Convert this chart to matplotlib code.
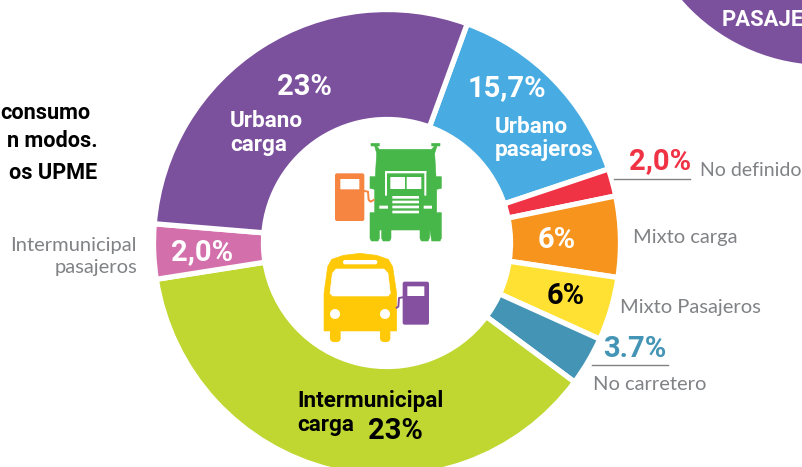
import matplotlib
matplotlib.use("Agg")
import matplotlib.pyplot as plt
from matplotlib.patches import Polygon, Circle, FancyBboxPatch

plt.rcParams['font.family'] = ['Roboto', 'DejaVu Sans']

# Shares (clockwise from the top-right boundary)
categories = ['Urbano pasajeros', 'No definido', 'Mixto carga', 'Mixto Pasajeros',
              'No carretero', 'Intermunicipal carga', 'Intermunicipal pasajeros', 'Urbano carga']
shares = [14.3, 1.9, 5.6, 4.4, 3.4, 37.4, 3.8, 29.3]
colors = ['#48ACE2', '#F03245', '#F7941D', '#FFE133',
          '#4495B5', '#BFD730', '#D36FAB', '#7B519D']

W, H = 803, 467
fig = plt.figure(figsize=(W / 100, H / 100), dpi=100, facecolor='white')
ax = fig.add_axes([0, 0, 1, 1])
CX, CY, R, RI = 387, 243, 231, 126
ax.pie(shares, colors=colors, center=(CX, H - CY), radius=R + 2.5, startangle=69.9,
       counterclock=False, frame=False,
       wedgeprops=dict(width=R - RI + 5, edgecolor='white', linewidth=3.8))
ax.set_xlim(0, W)
ax.set_ylim(0, H)
ax.set_aspect('equal')
ax.axis('off')

ov = fig.add_axes([0, 0, 1, 1])
ov.set_xlim(0, W)
ov.set_ylim(H, 0)
ov.axis('off')
ov.patch.set_alpha(0)

# ---- purple badge, top right
ov.add_patch(Circle((825, -125), 190, color='#7B519D', lw=0))


def z(X, Y):
    return (260 + X / 3, 130 + Y / 3)


def poly(pts, c, z_=2):
    ov.add_patch(Polygon([z(*p) for p in pts], closed=True, fc=c, ec=c, lw=0.4,
                         joinstyle='round', zorder=z_))


def rrect(x0, y0, x1, y1, c, rad=2, z_=2):
    a, b = z(x0, y0), z(x1, y1)
    ov.add_patch(FancyBboxPatch((a[0] + rad, a[1] + rad), b[0] - a[0] - 2 * rad, b[1] - a[1] - 2 * rad,
                                boxstyle=f'round,pad={rad}', fc=c, ec='none', zorder=z_))


def hose(pts, c):
    xy = [z(*p) for p in pts]
    ov.plot([p[0] for p in xy], [p[1] for p in xy], color=c, lw=1.4, solid_joinstyle='round', zorder=2)


# ---- truck icon
G = '#48B749'
poly([(333, 40), (358, 40), (358, 48), (350, 48), (358, 58), (515, 58), (524, 48), (515, 48),
      (515, 40), (540, 40), (540, 48), (531, 48), (524, 70), (528, 140), (544, 140), (544, 175),
      (530, 178), (530, 248), (544, 248), (544, 325), (540, 333), (515, 333), (510, 300),
      (508, 325), (504, 333), (484, 333), (480, 325), (480, 300), (393, 300), (393, 325), (389, 333),
      (369, 333), (365, 325), (365, 300), (358, 300), (358, 325), (354, 333), (334, 333),
      (330, 325), (330, 248), (344, 248), (344, 178), (330, 175), (330, 140), (346, 140),
      (350, 70), (344, 48), (333, 48)], G)
WH = 'white'
rrect(375, 123, 499, 130, WH, 0.3, 3)
rrect(375, 123, 381, 197, WH, 0.3, 3)
rrect(493, 123, 499, 197, WH, 0.3, 3)
rrect(391, 141, 435, 177, WH, 0.3, 3)
rrect(440, 141, 484, 177, WH, 0.3, 3)
for y0 in (198, 212, 227, 242):
    rrect(397, y0, 477, y0 + 8, WH, 0.3, 3)
rrect(358, 227, 384, 236, WH, 0.3, 3)
rrect(491, 227, 516, 236, WH, 0.3, 3)

# orange pump
O = '#F58540'
rrect(225, 130, 313, 273, O, 2)
rrect(241, 147, 298, 178, WH, 0.3, 3)
hose([(313, 183), (324, 185), (326, 210), (332, 215), (341, 210)], O)

# ---- bus icon
Y = '#FFC907'
poly([(192, 603), (192, 490), (203, 410), (215, 388), (250, 376), (300, 370), (350, 376),
      (385, 388), (398, 410), (410, 490), (410, 603)], Y)
rrect(210, 595, 242, 636, Y, 4)
rrect(360, 595, 391, 636, Y, 4)
poly([(228, 417), (372, 417), (384, 430), (391, 490), (384, 498), (218, 498), (210, 490), (217, 430)], WH, 3)
rrect(249, 390, 352, 403, WH, 2, 3)
for cx in (225, 375):
    ov.add_patch(Circle(z(cx, 552), 5, fc=WH, ec='none', zorder=3))

# purple pump
P = '#8650A0'
rrect(428, 455, 507, 584, P, 2)
rrect(442, 469, 493, 498, WH, 0.3, 3)
hose([(428, 502), (417, 504), (415, 530), (410, 533)], P)

# ---- text
BIG = 21
MID = 16.2
LAB = 14.5
GR = '#808285'


def t(x, y, s, c='black', size=BIG, w='bold', ha='center'):
    fam = ['Lato', 'DejaVu Sans'] if w == 'normal' else ['Roboto', 'DejaVu Sans']
    ov.text(x, y, s, color=c, fontsize=size, fontweight=w, family=fam, ha=ha, va='center', zorder=5)


t(304, 87, '23%', 'white')
t(230, 121, 'Urbano', 'white', MID, ha='left')
t(230, 145, 'carga', 'white', MID, ha='left')
t(507, 88, '15,7%', 'white')
t(495, 127, 'Urbano', 'white', MID, ha='left')
t(495, 150, 'pasajeros', 'white', MID, ha='left')
t(660, 161, '2,0%', '#F03245')
t(557, 240, '6%', 'white')
t(566, 296, '6%', 'black')
t(635, 349, '3.7%', '#4495B5')
t(202, 252, '2,0%', 'white')
t(297, 401, 'Intermunicipal', 'black', MID, ha='left')
t(297, 425, 'carga', 'black', MID, ha='left')
t(395, 431, '23%', 'black')

t(700, 170, 'No definido', GR, 14, 'normal', 'left')
t(633, 237, 'Mixto carga', GR, LAB, 'normal', 'left')
t(620, 307, 'Mixto Pasajeros', GR, LAB, 'normal', 'left')
t(593, 384, 'No carretero', GR, LAB, 'normal', 'left')
t(137, 245, 'Intermunicipal', GR, LAB, 'normal', 'right')
t(137, 268, 'pasajeros', GR, LAB, 'normal', 'right')

ov.plot([614, 690], [179, 179], color=GR, lw=1)
ov.plot([592, 668], [365, 365], color=GR, lw=1)

t(90, 113, 'consumo', 'black', 15.6, ha='right')
t(98, 141, 'n modos.', 'black', 15.6, ha='right')
t(97, 173, 'os UPME', 'black', 15.6, ha='right')
t(722, 20, 'PASAJE', 'white', 15.8, ha='left')

fig.savefig('out.png', dpi=100, facecolor='white')
